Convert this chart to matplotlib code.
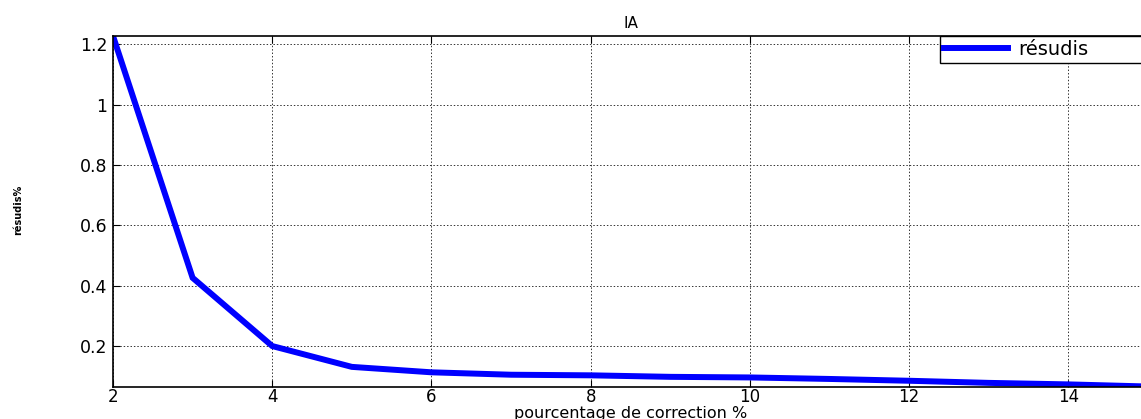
import matplotlib
matplotlib.use("Agg")
import matplotlib.pyplot as plt

x_pct = [2, 3, 4, 5, 6, 7, 8, 9, 10, 11, 12, 13, 14, 15]
residus = [1.227, 0.426, 0.200, 0.131, 0.113, 0.105, 0.103, 0.098, 0.096, 0.091, 0.085, 0.078, 0.073, 0.066]
x_ticks = [2, 4, 6, 8, 10, 12, 14]
y_ticks = [0.2, 0.4, 0.6, 0.8, 1.0, 1.2]
y_tick_labels = ["0.2", "0.4", "0.6", "0.8", "1", "1.2"]

W, H = 1141, 419
fig = plt.figure(figsize=(W / 100, H / 100), dpi=100)
plt.rcParams['font.family'] = ['DejaVu Sans']
ax = fig.add_axes([113 / W, 32.5 / H, 1035 / W, 350.5 / H])

ax.plot(x_pct, residus, color='#0000ff', lw=4.3, label='résudis', solid_joinstyle='miter')
ax.set_xlim(2, 15)
ax.set_ylim(min(residus), max(residus))
ax.set_xticks(x_ticks)
ax.set_yticks(y_ticks)
ax.set_yticklabels(y_tick_labels)
ax.grid(True, color='#333333', linestyle=(0, (1.5, 2)), lw=0.7)
ax.tick_params(direction='in', top=True, right=True, labelsize=12, length=5, pad=1)
ax.tick_params(axis='y', pad=4, labelsize=12.5)
for s in ax.spines.values():
    s.set_linewidth(1.2)

ax.set_title('IA', fontsize=11, pad=6)
ax.set_xlabel('pourcentage de correction %', fontsize=11.5, labelpad=0)
fig.text(18 / W, 0.5, 'résudis%', rotation=90, fontsize=7, fontweight='bold', va='center', ha='center')

leg = ax.legend(loc='upper left', bbox_to_anchor=(940 / W, 1 - 36 / H, 230 / W, 0.0),
                bbox_transform=fig.transFigure, mode='expand',
                fontsize=14, frameon=True, fancybox=False,
                borderaxespad=0, handlelength=3.3, borderpad=0.2, handletextpad=0.5)
leg.get_frame().set_edgecolor('black')
leg.get_frame().set_linewidth(1.0)
leg.get_frame().set_alpha(1)

fig.savefig('out.png', dpi=100)
